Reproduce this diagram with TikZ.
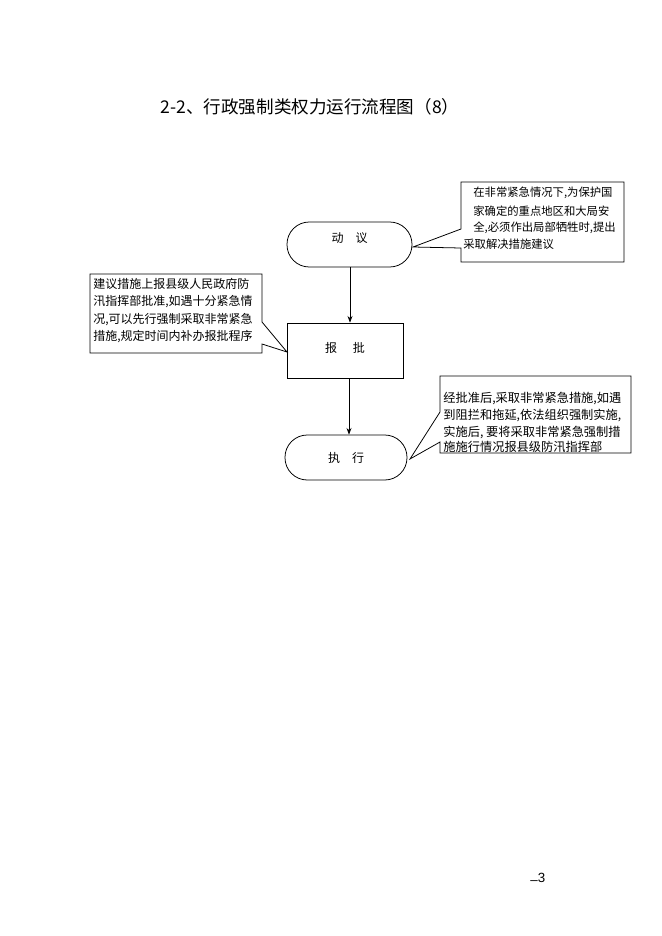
\documentclass[tikz,border=0pt]{standalone}
\usepackage{fontspec}
\setmainfont{Noto Sans CJK SC}
\newfontfamily\numfont{Liberation Sans}
\usetikzlibrary{arrows.meta}
\begin{document}
\begin{tikzpicture}[x=0.9pt,y=-0.9pt,
  every path/.style={line width=0.7pt},
  stadium/.style={draw, rounded corners=20pt, minimum height=40.5pt, inner sep=0pt},
  procbox/.style={draw, rectangle, minimum width=104.4pt, minimum height=49.5pt, inner sep=0pt},
  lbl/.style={font=\fontsize{10.8pt}{12pt}\selectfont, inner sep=0pt},
  callout/.style={draw, line width=0.7pt},
  ln/.style={anchor=west, inner sep=0pt},
  lnA/.style={ln, font=\fontsize{10.2pt}{12pt}\selectfont},
  lnB/.style={ln, font=\fontsize{10.8pt}{12pt}\selectfont},
  lnC/.style={ln, font=\fontsize{11pt}{12pt}\selectfont},
  arr/.style={draw, -{Stealth[length=6pt,width=4.5pt]}}
]
\useasboundingbox (0,0) rectangle (662,936);
\fill[white] (0,0) rectangle (662,936);

% title
\node[inner sep=0pt, font=\fontsize{15.8pt}{18pt}\selectfont] (title) at (310,107) {2-2、行政强制类权力运行流程图（8）};

% main nodes
\node[stadium, minimum width=112.5pt, label={[lbl, yshift=6pt]center:动\hspace{1em}议}] (s1) at (349.5,244.5) {};
\node[procbox, label={[lbl, yshift=2pt]center:报\hspace{1.3em}批}] (b2) at (345,350.5) {};
\node[stadium, minimum width=109.8pt, label={[lbl]center:执\hspace{1em}行}] (s3) at (346,457.5) {};

% arrows
\coordinate (ax1) at (350,0);
\coordinate (ax2) at (349,0);
\draw[arr] (s1.south -| ax1) -- (b2.north -| ax1);
\draw[arr] (b2.south -| ax2) -- (s3.north -| ax2);

% callout 1
\draw[callout] (461,182) -- (624,182) -- (624,262) -- (461,262) -- (461,248)
  -- (413,247) -- (461,229) -- cycle;
\node[lnA] (c1a) at (473,193) {在非常紧急情况下,为保护国};
\node[lnA] (c1b) at (473,211) {家确定的重点地区和大局安};
\node[lnA] (c1c) at (473,228) {全,必须作出局部牺牲时,提出};
\node[lnA] (c1d) at (463,244) {采取解决措施建议};

% callout 2
\draw[callout] (90,274) -- (262,274) -- (262,322) -- (287,352) -- (262,344)
  -- (262,353) -- (90,353) -- cycle;
\node[lnB] (c2a) at (93,284) {建议措施上报县级人民政府防};
\node[lnB] (c2b) at (93,302) {汛指挥部批准,如遇十分紧急情};
\node[lnB] (c2c) at (93,320) {况,可以先行强制采取非常紧急};
\node[lnB] (c2d) at (93,337) {措施,规定时间内补办报批程序};

% callout 3
\draw[callout] (440,376) -- (631,376) -- (631,453) -- (440,453) -- (440,442)
  -- (410,459) -- (440,412) -- cycle;
\node[lnC] (c3a) at (443,399) {经批准后,采取非常紧急措施,如遇};
\node[lnC] (c3b) at (443,415) {到阻拦和拖延,依法组织强制实施,};
\node[lnC] (c3c) at (443,432) {实施后, 要将采取非常紧急强制措};
\node[lnC] (c3d) at (443,447) {施施行情况报县级防汛指挥部};

% page number
\node[inner sep=0pt, anchor=west, font=\numfont\fontsize{12pt}{14pt}\selectfont] (pg) at (530,879) {\raisebox{-1.2pt}{–}3};
\end{tikzpicture}
\end{document}
